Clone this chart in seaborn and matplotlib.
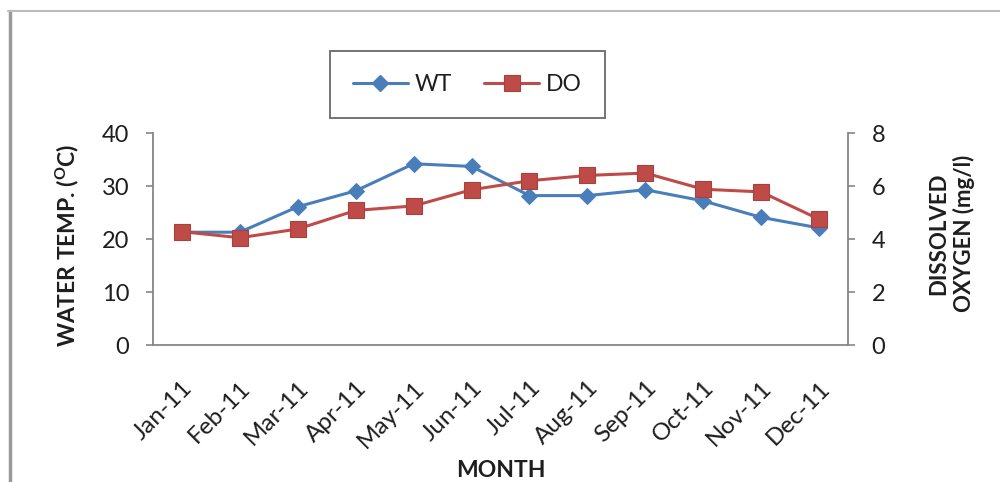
import matplotlib
matplotlib.use("Agg")
import matplotlib.pyplot as plt
import seaborn as sns
import pandas as pd
from matplotlib.lines import Line2D

months = ["Jan-11", "Feb-11", "Mar-11", "Apr-11", "May-11", "Jun-11",
          "Jul-11", "Aug-11", "Sep-11", "Oct-11", "Nov-11", "Dec-11"]
water_temp = [21.3, 21.3, 26.1, 29.1, 34.2, 33.7, 28.2, 28.2, 29.3, 27.2, 24.1, 22.1]
dissolved_oxygen = [4.28, 4.05, 4.38, 5.08, 5.25, 5.86, 6.2, 6.4, 6.49, 5.88, 5.78, 4.75]
left_ticks = [0, 10, 20, 30, 40]
right_ticks = [0, 2, 4, 6, 8]

sns.set_theme(style="white")
plt.rcParams["font.family"] = ["Lato", "DejaVu Sans"]
plt.rcParams["mathtext.fontset"] = "custom"
plt.rcParams["mathtext.rm"] = "Lato"
plt.rcParams["mathtext.bf"] = "Lato:bold"

WT_COLOR = "#4A7EBB"
DO_COLOR = "#BE4B48"
AXIS_COLOR = "#868686"
TEXT_COLOR = "#1E1E1E"

df = pd.DataFrame({"month": months, "wt": water_temp, "do": dissolved_oxygen})

fig = plt.figure(figsize=(10, 4.82), dpi=100)
ax = fig.add_axes([0.153, 0.284, 0.695, 0.440])
ax2 = ax.twinx()

sns.lineplot(data=df, x="month", y="wt", ax=ax, sort=False, color=WT_COLOR,
             linewidth=2.2, marker="D", markersize=8.5, markeredgecolor=WT_COLOR)
sns.lineplot(data=df, x="month", y="do", ax=ax2, sort=False, color=DO_COLOR,
             linewidth=2.2, marker="s", markersize=11, markeredgecolor="#A8403D",
             markeredgewidth=0.8)

ax.set_xlim(-0.5, len(months) - 0.5)
ax.set_ylim(0, 40)
ax2.set_ylim(0, 8)
ax.set_yticks(left_ticks)
ax2.set_yticks(right_ticks)

for a in (ax, ax2):
    a.spines["top"].set_visible(False)
    for side in ("left", "right", "bottom"):
        a.spines[side].set_color(AXIS_COLOR)
        a.spines[side].set_linewidth(1.3)
    a.grid(False)
ax.spines["right"].set_visible(False)
ax2.spines["left"].set_visible(False)
ax2.spines["bottom"].set_visible(False)

ax.tick_params(axis="y", which="major", direction="out", length=5, width=1.2,
               color=AXIS_COLOR, pad=12, labelsize=17, labelcolor=TEXT_COLOR, left=True)
ax2.tick_params(axis="y", which="major", direction="out", length=5, width=1.2,
                color=AXIS_COLOR, pad=12, labelsize=17, labelcolor=TEXT_COLOR, right=True)
ax.tick_params(axis="x", length=0, pad=23, labelsize=17.5, labelcolor=TEXT_COLOR)
for lbl in ax.get_xticklabels():
    lbl.set_rotation(45)
    lbl.set_ha("right")
    lbl.set_va("top")
    lbl.set_rotation_mode("anchor")

ax.set_xlabel("MONTH", fontsize=16.5, fontweight="bold", color=TEXT_COLOR, labelpad=6)
ax.set_ylabel(r"WATER TEMP. ($\mathbf{^{O}}$C)", fontsize=16.5, fontweight="bold",
              color=TEXT_COLOR)
ax.yaxis.set_label_coords(-0.103, 0.47)
ax2.set_ylabel("DISSOLVED\nOXYGEN (mg/l)", fontsize=16, fontweight="bold",
               color=TEXT_COLOR, linespacing=1.2, rotation=90)
ax2.yaxis.set_label_coords(1.116, 0.525)

handles = [
    Line2D([], [], color=WT_COLOR, linewidth=2.2, marker="D", markersize=8.5),
    Line2D([], [], color=DO_COLOR, linewidth=2.2, marker="s", markersize=11,
           markeredgecolor="#A8403D", markeredgewidth=0.8),
]
leg = fig.legend(handles, ["WT", "DO"], loc="center", bbox_to_anchor=(0.4675, 0.825),
                 ncol=2, frameon=True, fancybox=False, fontsize=16.5,
                 handlelength=2.4, handletextpad=0.3, columnspacing=1.4,
                 borderpad=1.0, borderaxespad=0)
leg.get_frame().set_edgecolor("#444444")
leg.get_frame().set_linewidth(1.3)
for t in leg.get_texts():
    t.set_color(TEXT_COLOR)

# outer chart frame (top and left edges)
fig.add_artist(Line2D([0.0095, 0.0095], [0.0, 0.978], transform=fig.transFigure,
                      color="#999999", linewidth=2.5))
fig.add_artist(Line2D([0.008, 1.0], [0.978, 0.978], transform=fig.transFigure,
                      color="#BBBBBB", linewidth=1.5))

fig.savefig("out.png", dpi=100, facecolor="white")
